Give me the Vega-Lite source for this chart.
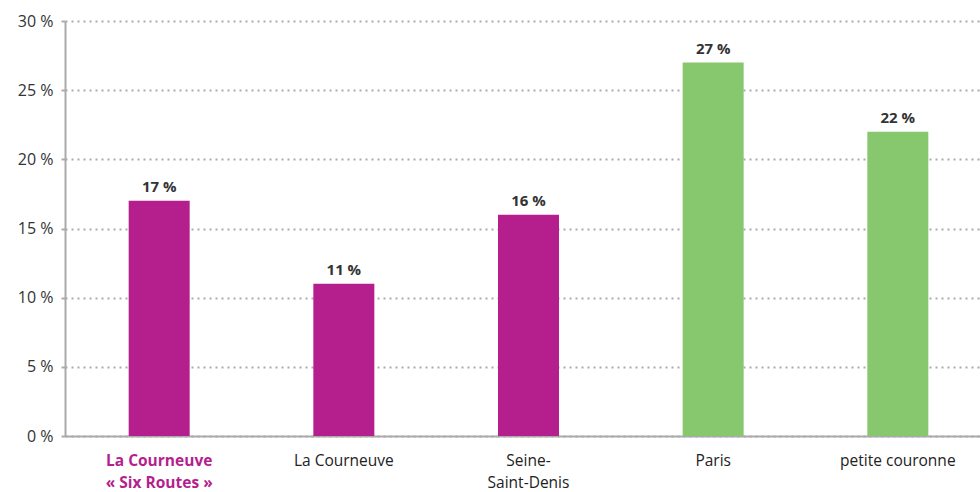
{
  "$schema": "https://vega.github.io/schema/vega-lite/v6.json",
  "autosize": "none",
  "width": 927,
  "height": 415,
  "padding": {"left": 65, "top": 21, "right": 0, "bottom": 56},
  "background": "white",
  "config": {"font": "Open Sans", "view": {"stroke": null}},
  "data": {
    "values": [
      {"zone": "La Courneuve|« Six Routes »", "value": 17, "label": "17 %", "group": "a"},
      {"zone": "La Courneuve", "value": 11, "label": "11 %", "group": "a"},
      {"zone": "Seine-|Saint-Denis", "value": 16, "label": "16 %", "group": "a"},
      {"zone": "Paris", "value": 27, "label": "27 %", "group": "b"},
      {"zone": "petite couronne", "value": 22, "label": "22 %", "group": "b"}
    ]
  },
  "encoding": {
    "x": {
      "field": "zone",
      "type": "nominal",
      "sort": null,
      "scale": {"paddingInner": 0, "paddingOuter": 0.01},
      "axis": {
        "title": null,
        "labelAngle": 0,
        "ticks": false,
        "domainColor": "#aaaaaa",
        "domainWidth": 2,
        "labelFontSize": 15.5,
        "labelPadding": 17,
        "labelLineHeight": 22,
        "labelExpr": "split(datum.label, '|')",
        "labelColor": {"condition": {"test": "datum.value == 'La Courneuve|« Six Routes »'", "value": "#b41f8d"}, "value": "#222222"},
        "labelFontWeight": {"condition": {"test": "datum.value == 'La Courneuve|« Six Routes »'", "value": "bold"}, "value": "normal"}
      }
    },
    "y": {
      "field": "value",
      "type": "quantitative",
      "scale": {"domain": [0, 30]},
      "axis": {
        "title": null,
        "values": [0, 5, 10, 15, 20, 25, 30],
        "labelExpr": "datum.value + ' %'",
        "labelFontSize": 16,
        "labelColor": "#333333",
        "labelPadding": 8,
        "domainColor": "#aaaaaa",
        "domainWidth": 2,
        "tickColor": "#aaaaaa",
        "tickSize": 4,
        "tickWidth": 2,
        "gridColor": "#aaaaaa",
        "gridWidth": 2,
        "gridDash": [2, 4]
      }
    }
  },
  "layer": [
    {
      "mark": {"type": "bar", "width": 61},
      "encoding": {
        "color": {
          "field": "group",
          "type": "nominal",
          "scale": {"domain": ["a", "b"], "range": ["#b41f8d", "#87c86e"]},
          "legend": null
        }
      }
    },
    {
      "mark": {"type": "text", "baseline": "bottom", "dy": -6, "fontSize": 15, "fontWeight": "bold", "color": "#333333"},
      "encoding": {
        "text": {"field": "label", "type": "nominal"}
      }
    }
  ]
}
